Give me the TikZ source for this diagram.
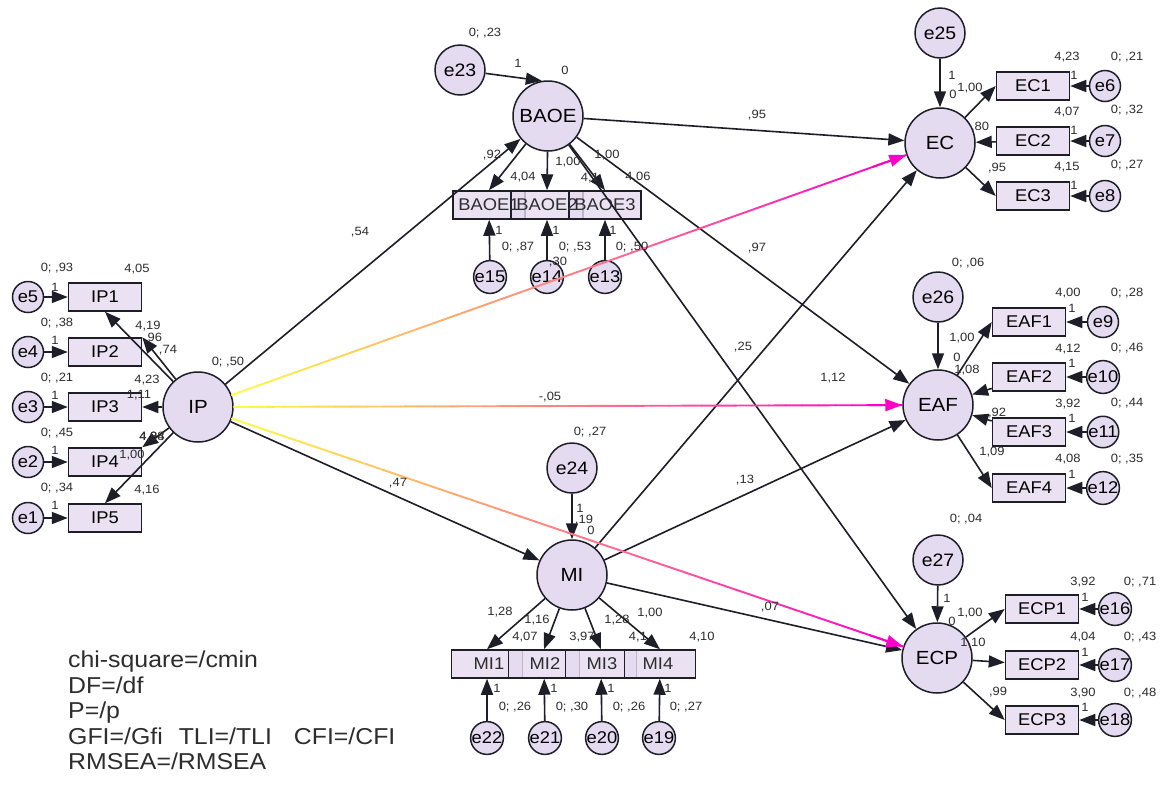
\documentclass[tikz,border=0pt]{standalone}
\usepackage{fontspec}
\setmainfont[FakeStretch=1.08]{Liberation Sans}
\usetikzlibrary{arrows.meta,calc}
\definecolor{lav}{RGB}{229,219,241}
\definecolor{edgec}{RGB}{30,30,40}
\definecolor{mag}{RGB}{255,0,200}
\definecolor{yel}{RGB}{255,250,70}
\definecolor{lbl}{RGB}{45,45,45}
\tikzset{
 lat/.style={circle, draw=edgec, fill=lav, line width=1.5pt, inner sep=0pt, minimum size=70pt, font=\fontsize{19}{19}\selectfont},
 err/.style={circle, draw=edgec, fill=lav, line width=1.5pt, inner sep=0pt, minimum size=50pt, font=\fontsize{18}{18}\selectfont},
 serr/.style={circle, draw=edgec, fill=lav, line width=1.5pt, inner sep=0pt, minimum size=31pt, font=\fontsize{17}{17}\selectfont},
 obs/.style={rectangle, draw=edgec, fill=lav, fill opacity=0.8, text opacity=1, line width=1.5pt, minimum width=73pt, minimum height=28pt, inner sep=0pt, font=\fontsize{17}{17}\selectfont},
 btxt/.style={inner sep=0pt, font=\fontsize{17}{17}\selectfont, text=lbl},
 lab/.style={font=\fontsize{12}{12}\selectfont, inner sep=0pt, text=lbl},
 arr/.style={-{Triangle[length=16pt,width=12pt]}, line width=1.6pt, draw=edgec},
}
\newcommand{\gradline}[3]{%
 \path (#1) -- (#2) coordinate[pos=0] (#3s) coordinate[pos=1] (#3t);
 \foreach \k in {0,...,39}{
   \pgfmathsetmacro{\pa}{\k/40}
   \pgfmathsetmacro{\pb}{(\k+1)/40}
   \pgfmathtruncatemacro{\pc}{100*\k/39}
   \draw[line width=1.9pt, line cap=round, color=mag!\pc!yel] ($(#3s)!\pa!(#3t)$) -- ($(#3s)!\pb!(#3t)$);
 }
 \draw[-{Triangle[length=17pt,width=12pt]}, line width=1.9pt, mag] ($(#3s)!0.95!(#3t)$) -- (#3t);
}
\begin{document}
\begin{tikzpicture}[x=1pt,y=-1pt]
\useasboundingbox[fill=white] (0,0) rectangle (1160,801);

% ---------- IP block ----------
\node[lat] (IP) at (198,407) {IP};
\foreach \n/\e/\y in {1/5/297,2/4/352,3/3/407,4/2/462,5/1/518}{
  \node[serr] (e\e) at (28,\y) {e\e};
  \node[obs] (IP\n) at (105,\y) {IP\n};
}
% ---------- BAOE block ----------
\node[lat] (BAOE) at (548,116) {BAOE};
\node[err] (e23) at (460,70) {e23};
\node[obs,minimum width=72pt] (B1) at (489,205) {};
\node[obs,minimum width=72pt] (B2) at (547,205) {};
\node[obs,minimum width=72pt] (B3) at (605,205) {};
\node[btxt] (B1t) at (B1) {BAOE1};
\node[btxt] (B2t) at (B2) {BAOE2};
\node[btxt] (B3t) at (B3) {BAOE3};
\node[serr] (e15) at (490,277) {e15};
\node[serr] (e14) at (547,277) {e14};
\node[serr] (e13) at (605,277) {e13};
% ---------- MI block ----------
\node[lat] (MI) at (572,575) {MI};
\node[err] (e24) at (572,468) {e24};
\node[obs,minimum width=71pt] (M1) at (487,664) {};
\node[obs,minimum width=71pt] (M2) at (544,664) {};
\node[obs,minimum width=71pt] (M3) at (601,664) {};
\node[obs,minimum width=71pt] (M4) at (660,664) {};
\node[btxt] (M1t) at (489,664) {MI1};
\node[btxt] (M2t) at (545,664) {MI2};
\node[btxt] (M3t) at (602,664) {MI3};
\node[btxt] (M4t) at (658,664) {MI4};
\node[serr] (e22) at (487,738) {e22};
\node[serr] (e21) at (545,738) {e21};
\node[serr] (e20) at (602,738) {e20};
\node[serr] (e19) at (659,738) {e19};
% ---------- EC block ----------
\node[lat] (EC) at (940,143) {EC};
\node[err] (e25) at (940,33) {e25};
\node[obs] (EC1) at (1033,86) {EC1};
\node[obs] (EC2) at (1033,141) {EC2};
\node[obs] (EC3) at (1033,196) {EC3};
\node[serr] (e6) at (1105,86) {e6};
\node[serr] (e7) at (1105,141) {e7};
\node[serr] (e8) at (1105,196) {e8};
% ---------- EAF block ----------
\node[lat] (EAF) at (938,405) {EAF};
\node[err] (e26) at (938,297) {e26};
\node[obs] (EAF1) at (1029,322) {EAF1};
\node[obs] (EAF2) at (1029,377) {EAF2};
\node[obs] (EAF3) at (1029,432) {EAF3};
\node[obs] (EAF4) at (1029,488) {EAF4};
\node[serr] (e9) at (1103,322) {e9};
\node[serr] (e10) at (1103,377) {e10};
\node[serr] (e11) at (1103,432) {e11};
\node[serr] (e12) at (1103,488) {e12};
% ---------- ECP block ----------
\node[lat] (ECP) at (937,658) {ECP};
\node[err] (e27) at (938,560) {e27};
\node[obs] (ECP1) at (1042,609) {ECP1};
\node[obs] (ECP2) at (1042,665) {ECP2};
\node[obs] (ECP3) at (1042,720) {ECP3};
\node[serr] (e16) at (1115,609) {e16};
\node[serr] (e17) at (1115,665) {e17};
\node[serr] (e18) at (1115,720) {e18};

% ---------- measurement arrows ----------
\foreach \n/\e in {1/5,2/4,3/3,4/2,5/1}{ \draw[arr] (e\e) -- (IP\n); }
\draw[arr] (IP) -- (IP1.south);
\draw[arr] (IP) -- (IP2.north east);
\draw[arr] (IP) -- (IP3);
\draw[arr] (IP) -- (IP4.north east);
\draw[arr] (IP) -- (IP5.north);

\draw[arr] (e23) -- (BAOE.100);
\draw[arr] (BAOE) -- (B1.north);
\draw[arr] (BAOE) -- (B2.north);
\draw[arr] (BAOE) -- (B3.north);
\draw[arr] (e15) -- (B1);
\draw[arr] (e14) -- (B2);
\draw[arr] (e13) -- (B3);

\draw[arr] (e24) -- (MI);
\draw[arr] (MI) -- (M1.north);
\draw[arr] (MI) -- (M2.north);
\draw[arr] (MI) -- (M3.north);
\draw[arr] (MI) -- (M4.north);
\draw[arr] (e22) -- (M1);
\draw[arr] (e21) -- (M2);
\draw[arr] (e20) -- (M3);
\draw[arr] (e19) -- (M4);

\draw[arr] (e25) -- (EC);
\draw[arr] (EC) -- (EC1.west);
\draw[arr] (EC2) -- (EC);
\draw[arr] (EC) -- (EC3.west);
\draw[arr] (e6) -- (EC1);
\draw[arr] (e7) -- (EC2);
\draw[arr] (e8) -- (EC3);

\draw[arr] (e26) -- (EAF);
\draw[arr] (EAF) -- (EAF1.west);
\draw[arr] (EAF2) -- (EAF);
\draw[arr] (EAF3) -- (EAF);
\draw[arr] (EAF) -- (EAF4.west);
\draw[arr] (e9) -- (EAF1);
\draw[arr] (e10) -- (EAF2);
\draw[arr] (e11) -- (EAF3);
\draw[arr] (e12) -- (EAF4);

\draw[arr] (e27) -- (ECP);
\draw[arr] (ECP) -- (ECP1.west);
\draw[arr] (ECP) -- (ECP2);
\draw[arr] (ECP) -- (ECP3.west);
\draw[arr] (e16) -- (ECP1);
\draw[arr] (e17) -- (ECP2);
\draw[arr] (e18) -- (ECP3);

% ---------- structural arrows ----------
\draw[arr] (IP) -- (BAOE);
\draw[arr] (IP) -- (MI);
\draw[arr] (BAOE) -- (EC);
\draw[arr] (BAOE) -- (EAF);
\draw[arr] (BAOE) -- (ECP);
\draw[arr] (MI) -- (EC);
\draw[arr] (MI) -- (EAF);
\draw[arr] (MI) -- (ECP);
\gradline{IP}{EC}{ga}
\gradline{IP}{EAF}{gb}
\gradline{IP}{ECP}{gc}

% ---------- labels: IP ----------
\node[lab] (l1) at (57,268) {0; ,93};
\node[lab] (l2) at (137,269) {4,05};
\node[lab] (l3) at (55,287) {1};
\node[lab] (l4) at (57,323) {0; ,38};
\node[lab] (l5) at (55,340) {1};
\node[lab] (l6) at (148,326) {4,19};
\node[lab] (l7) at (153,338) {,96};
\node[lab] (l8) at (168,350) {,74};
\node[lab] (l9) at (57,378) {0; ,21};
\node[lab] (l10) at (55,395) {1};
\node[lab] (l11) at (147,380) {4,23};
\node[lab] (l12) at (139,395) {1,11};
\node[lab] (l13) at (57,433) {0; ,45};
\node[lab] (l14) at (55,450) {1};
\node[lab] (l15) at (152,437) {4,84};
\node[lab] (l16) at (152,437) {4,98};
\node[lab] (l17) at (132,455) {1,00};
\node[lab] (l18) at (57,488) {0; ,34};
\node[lab] (l19) at (55,505) {1};
\node[lab] (l20) at (147,490) {4,16};
\node[lab] (l21) at (228,362) {0; ,50};
% ---------- labels: BAOE ----------
\node[lab] (l22) at (485,33) {0; ,23};
\node[lab] (l23) at (518,63) {1};
\node[lab] (l24) at (565,70) {0};
\node[lab] (l25) at (492,155) {,92};
\node[lab] (l26) at (523,177) {4,04};
\node[lab] (l27) at (568,162) {1,00};
\node[lab] (l28) at (590,178) {4,1};
\node[lab] (l29) at (607,155) {1,00};
\node[lab] (l30) at (638,177) {4,06};
\node[lab] (l31) at (499,230) {1};
\node[lab] (l32) at (518,247) {0; ,87};
\node[lab] (l33) at (556,230) {1};
\node[lab] (l34) at (575,247) {0; ,53};
\node[lab] (l35) at (613,230) {1};
\node[lab] (l36) at (632,247) {0; ,50};
\node[lab] (l37) at (558,262) {,30};
% ---------- labels: MI ----------
\node[lab] (l38) at (590,432) {0; ,27};
\node[lab] (l39) at (580,508) {1};
\node[lab] (l40) at (584,520) {,19};
\node[lab] (l41) at (591,530) {0};
\node[lab] (l42) at (500,612) {1,28};
\node[lab] (l43) at (537,620) {1,16};
\node[lab] (l44) at (525,637) {4,07};
\node[lab] (l45) at (582,637) {3,97};
\node[lab] (l46) at (617,620) {1,28};
\node[lab] (l47) at (650,613) {1,00};
\node[lab] (l48) at (638,637) {4,1};
\node[lab] (l49) at (702,637) {4,10};
\node[lab] (l50) at (497,688) {1};
\node[lab] (l51) at (515,707) {0; ,26};
\node[lab] (l52) at (554,688) {1};
\node[lab] (l53) at (572,707) {0; ,30};
\node[lab] (l54) at (611,688) {1};
\node[lab] (l55) at (629,707) {0; ,26};
\node[lab] (l56) at (668,688) {1};
\node[lab] (l57) at (686,707) {0; ,27};
% ---------- labels: EC ----------
\node[lab] (l58) at (952,75) {1};
\node[lab] (l59) at (970,88) {1,00};
\node[lab] (l60) at (953,94) {0};
\node[lab] (l61) at (980,127) {,80};
\node[lab] (l62) at (997,168) {,95};
\node[lab] (l63) at (1067,57) {4,23};
\node[lab] (l64) at (1127,57) {0; ,21};
\node[lab] (l65) at (1074,75) {1};
\node[lab] (l66) at (1067,112) {4,07};
\node[lab] (l67) at (1127,110) {0; ,32};
\node[lab] (l68) at (1074,130) {1};
\node[lab] (l69) at (1067,167) {4,15};
\node[lab] (l70) at (1127,165) {0; ,27};
\node[lab] (l71) at (1074,185) {1};
% ---------- labels: EAF ----------
\node[lab] (l72) at (968,263) {0; ,06};
\node[lab] (l73) at (962,338) {1,00};
\node[lab] (l74) at (957,357) {0};
\node[lab] (l75) at (967,370) {1,08};
\node[lab] (l76) at (997,413) {,92};
\node[lab] (l77) at (992,452) {1,09};
\node[lab] (l78) at (1068,293) {4,00};
\node[lab] (l79) at (1127,293) {0; ,28};
\node[lab] (l80) at (1072,308) {1};
\node[lab] (l81) at (1068,349) {4,12};
\node[lab] (l82) at (1127,348) {0; ,46};
\node[lab] (l83) at (1072,363) {1};
\node[lab] (l84) at (1068,404) {3,92};
\node[lab] (l85) at (1127,403) {0; ,44};
\node[lab] (l86) at (1072,418) {1};
\node[lab] (l87) at (1068,459) {4,08};
\node[lab] (l88) at (1127,459) {0; ,35};
\node[lab] (l89) at (1072,474) {1};
% ---------- labels: ECP ----------
\node[lab] (l90) at (966,519) {0; ,04};
\node[lab] (l91) at (947,598) {1};
\node[lab] (l92) at (970,613) {1,00};
\node[lab] (l93) at (952,621) {0};
\node[lab] (l94) at (973,643) {1,10};
\node[lab] (l95) at (998,692) {,99};
\node[lab] (l96) at (1083,582) {3,92};
\node[lab] (l97) at (1140,582) {0; ,71};
\node[lab] (l98) at (1085,597) {1};
\node[lab] (l99) at (1083,637) {4,04};
\node[lab] (l100) at (1140,637) {0; ,43};
\node[lab] (l101) at (1085,652) {1};
\node[lab] (l102) at (1083,693) {3,90};
\node[lab] (l103) at (1140,693) {0; ,48};
\node[lab] (l104) at (1085,707) {1};
% ---------- labels: structural ----------
\node[lab] (s1) at (360,232) {,54};
\node[lab] (s2) at (757,115) {,95};
\node[lab] (s3) at (757,248) {,97};
\node[lab] (s4) at (833,378) {1,12};
\node[lab] (s5) at (743,347) {,25};
\node[lab] (s6) at (745,480) {,13};
\node[lab] (s7) at (770,607) {,07};
\node[lab] (s8) at (398,483) {,47};
\node[lab] (s9) at (550,397) {-,05};
% ---------- fit indices ----------
\node[anchor=north west, align=left, inner sep=0pt, text=lbl, font=\fontsize{23}{25.5}\selectfont] (fit) at (68,651)
 {chi-square=/cmin\\DF=/df\\P=/p\\GFI=/Gfi\hspace{16pt}TLI=/TLI\hspace{22pt}CFI=/CFI\\RMSEA=/RMSEA};
\end{tikzpicture}
\end{document}
